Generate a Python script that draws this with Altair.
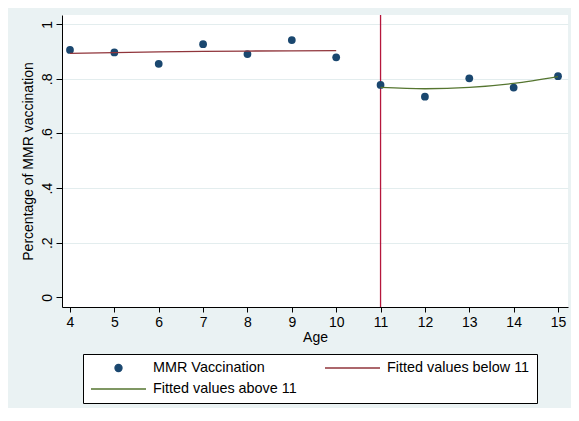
import altair as alt
import pandas as pd

ages = [4, 5, 6, 7, 8, 9, 10, 11, 12, 13, 14, 15]
mmr = [0.906, 0.897, 0.855, 0.927, 0.891, 0.942, 0.879, 0.778, 0.735, 0.802, 0.768, 0.810]

fit_below_age = [4, 5, 6, 7, 8, 9, 10]
fit_below = [0.8934, 0.8963, 0.8987, 0.9006, 0.9020, 0.9029, 0.9033]

fit_above_age = [11, 12, 13, 14, 15]
fit_above = [0.7690, 0.7639, 0.7687, 0.7833, 0.8081]

cutoff = 11
# legend fills column by column: [col1 row1, col1 row2, col2 row1]
series_names = ["MMR Vaccination", "Fitted values above 11", "Fitted values below 11"]
series_colors = ["#1a476f", "#55752f", "#90353b"]

pts = pd.DataFrame({"age": ages, "val": mmr, "series": series_names[0]})
fa = pd.DataFrame({"age": fit_above_age, "val": fit_above, "series": series_names[1]})
fb = pd.DataFrame({"age": fit_below_age, "val": fit_below, "series": series_names[2]})

FONT = "Liberation Sans"

xscale = alt.Scale(domain=[3.82, 15.225], nice=False, zero=False)
yscale = alt.Scale(domain=[-0.0355, 1.034], nice=False, zero=False)

xaxis = alt.Axis(values=ages, format="d", title="Age", grid=False,
                 tickSize=5, labelPadding=3, titlePadding=1,
                 labelFontSize=14, titleFontSize=14, labelFont=FONT, titleFont=FONT,
                 titleFontWeight="normal", domainColor="#000000", tickColor="#000000",
                 labelColor="#000000", titleColor="#000000", labelFlush=False)
yaxis = alt.Axis(values=[0, 0.2, 0.4, 0.6, 0.8, 1],
                 labelExpr="datum.value == 0 ? '0' : datum.value == 1 ? '1' : replace(format(datum.value, '.1f'), '0.', '.')",
                 title="Percentage of MMR vaccination", grid=True,
                 gridColor="#E3EDEE", gridWidth=1.2,
                 gridOpacity={"condition": {"test": "datum.value === 0", "value": 0}, "value": 1},
                 tickSize=6, labelPadding=2, titlePadding=5,
                 labelAngle=270, labelAlign="center", labelBaseline="bottom",
                 labelFontSize=14, titleFontSize=14, labelFont=FONT, titleFont=FONT,
                 titleFontWeight="normal", domainColor="#000000", tickColor="#000000",
                 labelColor="#000000", titleColor="#000000", labelFlush=False)

IS_PT = "datum.value === 'MMR Vaccination'"
legend = alt.Legend(
    title=None, orient="none", legendX=21, legendY=339, columns=2,
    strokeColor="#000000", fillColor="#ffffff", padding=7,
    labelFont=FONT, labelFontSize=14.4, labelColor="#000000",
    clipHeight=14,
    symbolType={"expr": f"{IS_PT} ? 'circle' : 'stroke'"},
    symbolSize={"expr": f"{IS_PT} ? 50 : 3025"},
    symbolFillColor={"expr": f"{IS_PT} ? '#1a476f' : 'transparent'"},
    symbolStrokeColor={"expr": f"{IS_PT} ? 'transparent' : (datum.value === 'Fitted values below 11' ? '#90353b' : '#55752f')"},
    symbolStrokeWidth=1.3, symbolOpacity=1,
    symbolOffset=0, labelOffset=6, columnPadding=27, rowPadding=6,
)

color = alt.Color("series:N", scale=alt.Scale(domain=series_names, range=series_colors), legend=legend)

base_x = alt.X("age:Q", scale=xscale, axis=xaxis)
base_y = alt.Y("val:Q", scale=yscale, axis=yaxis)

points = alt.Chart(pts).mark_circle(size=60, opacity=1).encode(x=base_x, y=base_y, color=color)
line_b = alt.Chart(fb).mark_line(strokeWidth=1.3, interpolate="monotone").encode(
    x=alt.X("age:Q", scale=xscale), y=alt.Y("val:Q", scale=yscale), color=color)
line_a = alt.Chart(fa).mark_line(strokeWidth=1.3, interpolate="monotone").encode(
    x=alt.X("age:Q", scale=xscale), y=alt.Y("val:Q", scale=yscale), color=color)
vline = alt.Chart(pd.DataFrame({"c": [cutoff]})).mark_rule(color="#b5173c", strokeWidth=1.3).encode(
    x=alt.X("c:Q", scale=xscale))

chart = alt.layer(vline, points, line_b, line_a).properties(
    width=506, height=292,
    autosize=alt.AutoSizeParams(type="none"),
    padding={"left": 54, "top": 7, "right": 3, "bottom": 101},
    background="#EAF2F3",
).configure_view(fill="#ffffff", stroke=None)

chart.save("out.html", embed_options={"renderer": "svg", "actions": False})
